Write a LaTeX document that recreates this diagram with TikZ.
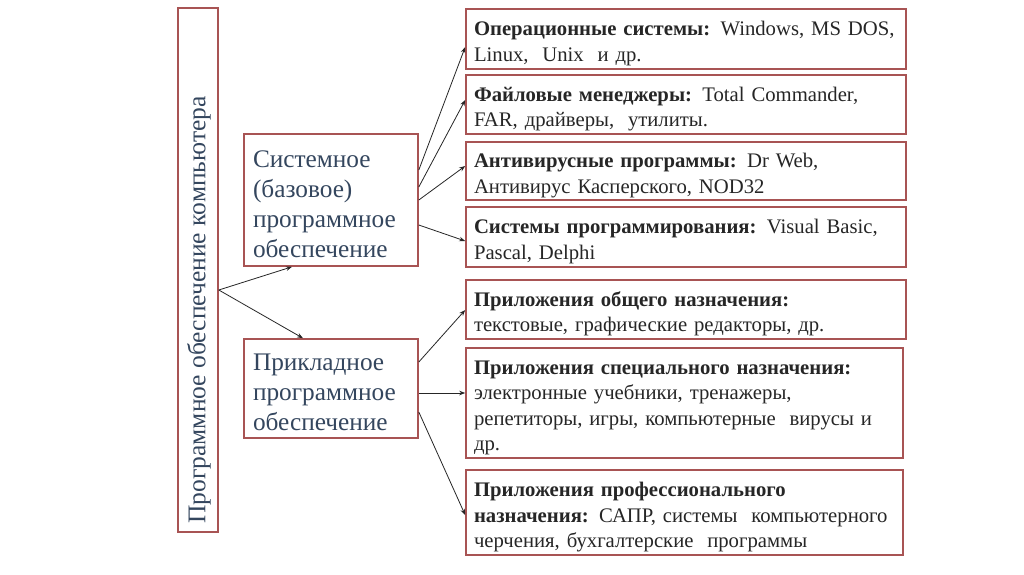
\documentclass[tikz,border=0pt]{standalone}
\usepackage{fontspec}
\setmainfont{Liberation Serif}
\usetikzlibrary{arrows.meta}
\definecolor{boxred}{HTML}{A85454}
\definecolor{bluetext}{HTML}{34465E}
\definecolor{graytext}{HTML}{262626}
\begin{document}
\begin{tikzpicture}[x=1pt,y=-1pt,
  boxbase/.style={draw=boxred, line width=1.6pt, fill=white, rectangle, inner ysep=0pt},
  rbox/.style={boxbase, text width=424pt, inner xsep=8pt, align=left, text=graytext,
     font=\fontsize{20.7}{25.5}\selectfont, execute at begin node={\rule{0pt}{23.5pt}}},
  lbox/.style={boxbase, text width=156pt, inner xsep=9pt, align=left, text=bluetext,
     font=\fontsize{25.3}{30}\selectfont, execute at begin node={\rule{0pt}{24.5pt}}},
  conn/.style={draw=black!85, line width=0.8pt, -{Stealth[length=6pt,width=4.5pt]}}]
\useasboundingbox (0,0) rectangle (1024,574);
\fill[white] (0,0) rectangle (1024,574);

% root
\node[boxbase, minimum width=40pt, minimum height=524pt, inner sep=0pt] (root) at (198,270) {};
\node[rotate=90, text=bluetext, font=\fontsize{25.5}{30}\selectfont, inner sep=0pt] (roottext) at (199,310) {Программное обеспечение компьютера};

% middle boxes
\node[lbox, minimum height=132pt] (sys) at (331,200)
  {Системное\\(базовое)\\программное\\обеспечение};
\node[lbox, minimum height=99pt] (app) at (331,388.5)
  {Прикладное\\программное\\обеспечение};

% right boxes
\node[rbox, minimum height=60pt] (b1) at (686,39)
  {\textbf{Операционные системы:} Windows, MS DOS,\\Linux,\ \ Unix\ \ и др.};
\node[rbox, minimum height=59pt] (b2) at (686,104.5)
  {\textbf{Файловые менеджеры:} Total Commander,\\FAR, драйверы,\ \ утилиты.};
\node[rbox, minimum height=58pt] (b3) at (686,171)
  {\textbf{Антивирусные программы:} Dr Web,\\Антивирус Касперского, NOD32};
\node[rbox, minimum height=60pt] (b4) at (686,237)
  {\textbf{Системы программирования:} Visual Basic,\\Pascal, Delphi};
\node[rbox, minimum height=59pt] (b5) at (686,309.5)
  {\textbf{Приложения общего назначения:}\\текстовые, графические редакторы, др.};
\node[rbox, minimum height=110pt, text width=421pt] (b6) at (684.5,403)
  {\textbf{Приложения специального назначения:}\\электронные учебники, тренажеры,\\репетиторы, игры, компьютерные\ \ вирусы и\\др.};
\node[rbox, minimum height=85pt, text width=421pt] (b7) at (684.5,512.5)
  {\textbf{Приложения профессионального}\\\textbf{назначения:} САПР, системы\ \ компьютерного\\черчения, бухгалтерские\ \ программы};

% connectors
\coordinate (rootfork) at (root.east |- 0,290);
\draw[conn] (rootfork) -- (sys.south -| 292,0);
\draw[conn] (rootfork) -- (app.north -| 303,0);

\draw[conn] (sys.east |- 0,170) -- (b1.west |- 0,47);
\draw[conn] (sys.east |- 0,187) -- (b2.west |- 0,100);
\draw[conn] (sys.east |- 0,200) -- (b3.west |- 0,166);
\draw[conn] (sys.east |- 0,225) -- (b4.west |- 0,241);

\draw[conn] (app.east |- 0,362) -- (b5.west |- 0,310);
\draw[conn] (app.east |- 0,393) -- (b6.west |- 0,393);
\draw[conn] (app.east |- 0,412) -- (b7.west |- 0,515);
\end{tikzpicture}
\end{document}
